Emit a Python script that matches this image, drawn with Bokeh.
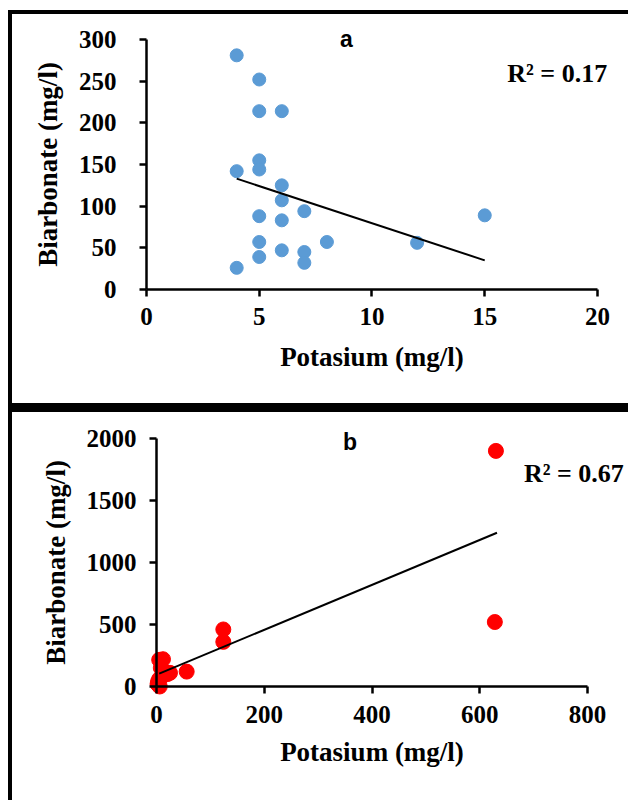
from bokeh.plotting import figure
from bokeh.layouts import column, row
from bokeh.models import Range1d, FixedTicker, Label, Spacer
from bokeh.embed import file_html
from bokeh.resources import INLINE

# ---------------- data ----------------
# panel a : Potasium vs Biarbonate
ka_x = [4, 5, 5, 6, 5, 5, 4, 6, 6, 5, 6, 7, 8, 5, 5, 6, 7, 7, 4, 15, 12]
ka_y = [281, 252, 214, 214, 155, 144, 142, 125, 107, 88, 83, 94, 57, 57, 39, 47, 45, 32, 26, 89, 56]
trend_a_x = [4, 15]
trend_a_y = [133, 35]
r2_a = "R² = 0.17"
xticks_a = [0, 5, 10, 15, 20]
yticks_a = [0, 50, 100, 150, 200, 250, 300]

# panel b
kb_x = [630, 628, 124, 124, 56, 5, 12, 8, 15, 20, 10, 5, 3, 2, 4, 6, 25]
kb_y = [1900, 520, 460, 360, 120, 215, 220, 150, 120, 100, 80, 60, 40, 20, 10, 0, 110]
trend_b_x = [5, 632]
trend_b_y = [104, 1240]
r2_b = "R² = 0.67"
xticks_b = [0, 200, 400, 600, 800]
yticks_b = [0, 500, 1000, 1500, 2000]

x_label = "Potasium (mg/l)"
y_label = "Biarbonate (mg/l)"

SERIF = "Liberation Serif"
SANS = "Liberation Sans"
W = 616


def make_panel(h, xr, yr, xb, yb, xt, yt, ytick_so, ylab_so, xtick_so, xlab_so):
    p = figure(width=W, height=h, output_backend="svg", toolbar_location=None,
               x_range=Range1d(*xr), y_range=Range1d(*yr),
               min_border_left=0, min_border_right=0,
               min_border_top=0, min_border_bottom=0)
    p.grid.visible = False
    p.outline_line_color = None
    p.background_fill_color = "white"
    p.border_fill_color = "white"
    p.xaxis.ticker = FixedTicker(ticks=xt)
    p.yaxis.ticker = FixedTicker(ticks=yt)
    p.xaxis.bounds = xb
    p.yaxis.bounds = yb
    p.xaxis.fixed_location = yb[0]
    p.yaxis.fixed_location = xb[0]
    for ax in (p.xaxis[0], p.yaxis[0]):
        ax.axis_line_width = 2.5
        ax.axis_line_color = "black"
        ax.major_tick_line_width = 2.5
        ax.major_tick_line_color = "black"
        ax.major_tick_in = 0
        ax.major_tick_out = 7
        ax.minor_tick_line_color = None
        ax.major_label_text_font = SERIF
        ax.major_label_text_font_style = "bold"
        ax.major_label_text_font_size = "25px"
        ax.major_label_text_color = "black"
        ax.axis_label_text_font = SERIF
        ax.axis_label_text_font_style = "bold"
        ax.axis_label_text_font_size = "27px"
        ax.axis_label_text_color = "black"
    p.xaxis.axis_label = x_label
    p.yaxis.axis_label = y_label
    p.yaxis.major_label_standoff = ytick_so
    p.xaxis.major_label_standoff = xtick_so
    p.yaxis.axis_label_standoff = ylab_so
    p.xaxis.axis_label_standoff = xlab_so
    return p


def black(w, h):
    return Spacer(width=w, height=h, styles={"background-color": "black"})


# ---------------- panel a ----------------
pa = make_panel(389, (-5.942, 21.375), (-136.8, 330), (0, 20), (0, 300), xticks_a, yticks_a,
                23, 13, 11, 14)
pa.scatter(ka_x, ka_y, size=13, color="#5B9BD5", line_color="#5B9BD5")
pa.line(trend_a_x, trend_a_y, line_color="black", line_width=2)
pa.add_layout(Label(x=16.0, y=259, text=r2_a, text_font=SERIF, text_font_style="bold",
                    text_font_size="26px", text_baseline="middle", text_color="black"))
pa.add_layout(Label(x=8.87, y=301, text="a", text_font=SANS, text_font_style="bold",
                    text_font_size="23px", text_align="center", text_baseline="middle",
                    text_color="black"))

# ---------------- panel b ----------------
pb = make_panel(388, (-267.3, 876.1), (-919.4, 2209.7), (0, 800), (0, 2000), xticks_b, yticks_b,
                13, 13, 13, 10)
pb.scatter(kb_x, kb_y, size=15, color="#FF0000", line_color="#FF0000")
pb.line(trend_b_x, trend_b_y, line_color="black", line_width=2)
pb.add_layout(Label(x=682, y=1718, text=r2_b, text_font=SERIF, text_font_style="bold",
                    text_font_size="26px", text_baseline="middle", text_color="black"))
pb.add_layout(Label(x=359, y=1968, text="b", text_font=SANS, text_font_style="bold",
                    text_font_size="23px", text_align="center", text_baseline="middle",
                    text_color="black"))

layout = column(
    Spacer(width=628, height=10),
    row(Spacer(width=8, height=790),
        black(4, 790),
        column(black(W, 4), pa, black(W, 9), pb, spacing=0),
        spacing=0),
    spacing=0)
open("out.html", "w").write(file_html(layout, INLINE))
